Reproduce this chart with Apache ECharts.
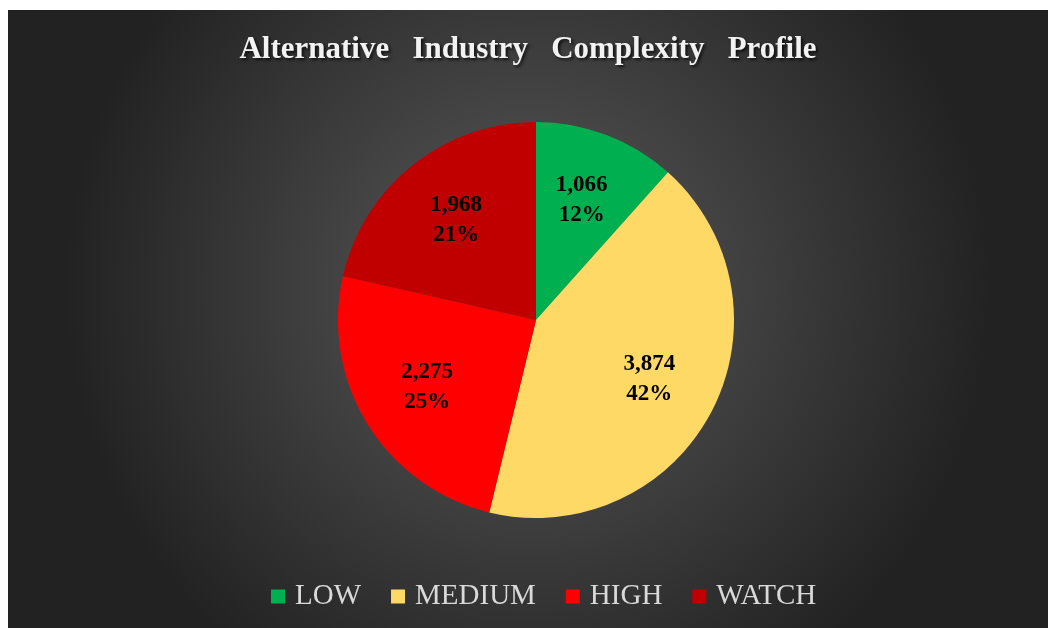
<!DOCTYPE html>
<html>
<head>
<meta charset="utf-8">
<script src="https://cdn.jsdelivr.net/npm/echarts@6/dist/echarts.min.js"></script>
<style>
  html, body { margin: 0; padding: 0; background: #ffffff; }
  #chart { position: absolute; left: 8px; top: 10px; width: 1040px; height: 618px; }
</style>
</head>
<body>
<div id="chart"></div>
<script>
// 数据
const categories = ['LOW', 'MEDIUM', 'HIGH', 'WATCH']
const counts = [1066, 3874, 2275, 1968]
const colors = ['#00B050', '#FFD966', '#FF0000', '#C00000']

const pieData = categories.map((name, i) => {
  return { name: name, value: counts[i], itemStyle: { color: colors[i] } }
})

const chart = echarts.init(document.getElementById('chart'))
const serif = '"Liberation Serif", "DejaVu Serif", serif'

const option = {
  backgroundColor: {
    type: 'radial', x: 0.5, y: 0.45, r: 0.75,
    colorStops: [
      { offset: 0, color: '#5a5a5a' },
      { offset: 1, color: '#222222' }
    ]
  },
  title: {
    text: 'Alternative   Industry   Complexity   Profile',
    left: 'center',
    top: 19,
    textStyle: {
      color: '#f2f2f2',
      fontFamily: serif,
      fontWeight: 'bold',
      fontSize: 31,
      textShadowColor: 'rgba(0,0,0,0.7)',
      textShadowBlur: 3,
      textShadowOffsetX: 2,
      textShadowOffsetY: 2
    }
  },
  legend: {
    bottom: 12,
    left: 258,
    icon: 'rect',
    itemWidth: 14,
    itemHeight: 14,
    itemGap: 30,
    data: categories,
    textStyle: {
      color: '#d9d9d9',
      fontFamily: serif,
      fontSize: 29,
      padding: [0, 0, 0, 5]
    }
  },
  series: [
    {
      // 扇区
      type: 'pie',
      center: [528, 310],
      radius: 198,
      startAngle: 90,
      clockwise: true,
      silent: true,
      label: { show: false },
      labelLine: { show: false },
      data: pieData
    },
    {
      // 标签层，透明扇区只负责把文字放到合适半径
      type: 'pie',
      center: [528, 310],
      radius: [96, 154],
      startAngle: 90,
      clockwise: true,
      silent: true,
      itemStyle: { color: 'rgba(0,0,0,0)' },
      labelLine: { show: false },
      label: {
        show: true,
        position: 'inside',
        color: '#000000',
        fontFamily: serif,
        fontWeight: 'bold',
        fontSize: 23,
        lineHeight: 30,
        formatter: (p) => p.value.toLocaleString('en-US') + '\n' + Math.round(p.percent) + '%'
      },
      data: categories.map((name, i) => ({ name: name, value: counts[i] }))
    }
  ]
}

chart.setOption(option)
</script>
</body>
</html>
